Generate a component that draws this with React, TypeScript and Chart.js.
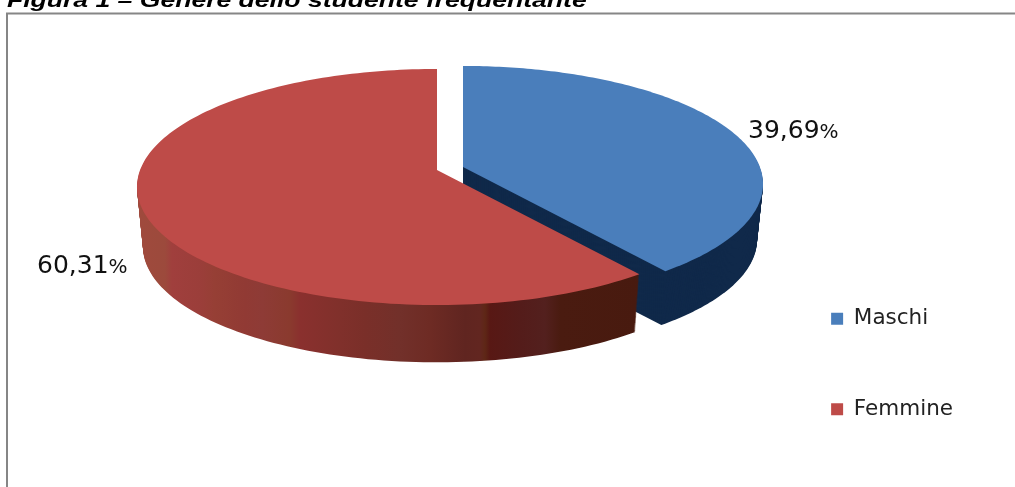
import React, { useEffect, useRef } from "react";
import { Chart, registerables } from "chart.js";

Chart.register(...registerables);

const categories = ["Maschi", "Femmine"];
const percentages = [39.69, 60.31];
const faceColors = ["#4A7EBB", "#BE4B48"];
const titleText = "Figura 1 \u2013 Genere dello studente frequentante";

// Pie geometry per slice: apex of the slice on screen, depth, and label anchor.
const apexX = [463, 437];
const apexY = [167, 170];
const sliceDepth = [56, 60];
const labelX = [748, 37];
const labelY = [138, 273];

const A = 296.9; // horizontal radius
const B = 115.6; // vertical radius
const K = 0.144; // perspective
const BOTTOM_SCALE = 0.98;

const BLUE_WALL = "#10294A";
const RED_WALL_STOPS: [number, string][] = [
  [137, "#A04A3D"], [165, "#9C4A3C"], [172, "#A03F3D"], [200, "#9B3E3A"], [215, "#963F35"],
  [245, "#913A34"], [262, "#8E3B36"], [290, "#8A3A2E"], [300, "#8A302E"], [340, "#80302B"],
  [365, "#7A2F29"], [400, "#72302A"], [430, "#6E2B24"], [465, "#602520"], [480, "#622620"],
  [485, "#5E2716"], [490, "#581814"], [520, "#541C1A"], [545, "#53201E"], [560, "#4A1B10"], [640, "#481A0F"],
];

function project(i: number, angle: number, scale: number, dy: number) {
  // angle in Chart.js terms: -PI/2 is 12 o'clock, clockwise.
  const u = Math.cos(angle);
  const v = Math.sin(angle);
  const d = 1 - K * v;
  return {
    x: apexX[i] + (scale * A * u) / d,
    y: apexY[i] + (scale * B * v) / d + dy,
  };
}

function formatValue(v: number) {
  return v.toFixed(2).replace(".", ",");
}

const piePlugin = {
  id: "pie3d",
  beforeDatasetsDraw(chart: any) {
    const ctx: CanvasRenderingContext2D = chart.ctx;
    const meta = chart.getDatasetMeta(0);
    const STEPS = 160;

    const sector = (i: number, start: number, end: number, scale: number, dy: number) => {
      ctx.beginPath();
      ctx.moveTo(apexX[i], apexY[i] + dy);
      for (let s = 0; s <= STEPS; s++) {
        const p = project(i, start + ((end - start) * s) / STEPS, scale, dy);
        ctx.lineTo(p.x, p.y);
      }
      ctx.closePath();
      ctx.fill();
    };

    ctx.save();
    // Chart frame
    ctx.strokeStyle = "#868686";
    ctx.lineWidth = 2;
    ctx.beginPath();
    ctx.moveTo(7, 490);
    ctx.lineTo(7, 13.5);
    ctx.lineTo(1020, 13.5);
    ctx.stroke();

    const redGradient = ctx.createLinearGradient(137, 0, 640, 0);
    for (const [x, c] of RED_WALL_STOPS) {
      redGradient.addColorStop((x - 137) / (640 - 137), c);
    }

    meta.data.forEach((arc: any, i: number) => {
      const { startAngle, endAngle } = arc.getProps(["startAngle", "endAngle"], true);
      const depth = sliceDepth[i];
      // Extruded body: stacked layers from the bottom up to the face.
      ctx.fillStyle = i === 0 ? BLUE_WALL : redGradient;
      for (let d = depth; d > 0; d -= 1) {
        const scale = 1 - ((1 - BOTTOM_SCALE) * d) / depth;
        sector(i, startAngle, endAngle, scale, d);
      }
      // Top face
      ctx.fillStyle = arc.options.backgroundColor;
      sector(i, startAngle, endAngle, 1, 0);
    });
    ctx.restore();
    return false;
  },
  afterDraw(chart: any) {
    const ctx: CanvasRenderingContext2D = chart.ctx;
    ctx.save();
    ctx.textBaseline = "alphabetic";
    ctx.textAlign = "left";
    ctx.fillStyle = "#000000";
    ctx.save();
    ctx.translate(7, 6.5);
    ctx.scale(1.264, 1);
    ctx.font = 'italic bold 21px "Liberation Sans"';
    ctx.fillText(titleText, 0, 0);
    ctx.restore();

    ctx.fillStyle = "#111111";
    percentages.forEach((v, i) => {
      const text = formatValue(v);
      ctx.font = '25px "DejaVu Sans"';
      ctx.fillText(text, labelX[i], labelY[i]);
      const w = ctx.measureText(text).width;
      ctx.font = '20px "DejaVu Sans"';
      ctx.fillText("%", labelX[i] + w, labelY[i]);
    });
    ctx.restore();
  },
};

export default function App() {
  const ref = useRef<HTMLCanvasElement>(null);
  useEffect(() => {
    if (!ref.current) return;
    const chart = new Chart(ref.current, {
      type: "pie",
      data: {
        labels: categories,
        datasets: [{ data: percentages, backgroundColor: faceColors, borderWidth: 0 }],
      },
      options: {
        animation: false,
        responsive: false,
        devicePixelRatio: 1,
        layout: { padding: { top: 239, right: 52, bottom: -40, left: 0 } },
        plugins: {
          tooltip: { enabled: false },
          title: { display: false },
          legend: {
            display: true,
            position: "right",
            align: "start",
            labels: {
              boxWidth: 12,
              boxHeight: 12,
              padding: 69,
              color: "#222222",
              font: { family: "DejaVu Sans", size: 21.5 },
            },
          },
        },
      } as any,
      plugins: [piePlugin as any],
    });
    return () => chart.destroy();
  }, []);
  return (
    <div style={{ position: "fixed", left: 0, top: 0, width: 1015, height: 487, background: "#fff" }}>
      <canvas ref={ref} width={1015} height={487} style={{ display: "block" }} />
    </div>
  );
}
